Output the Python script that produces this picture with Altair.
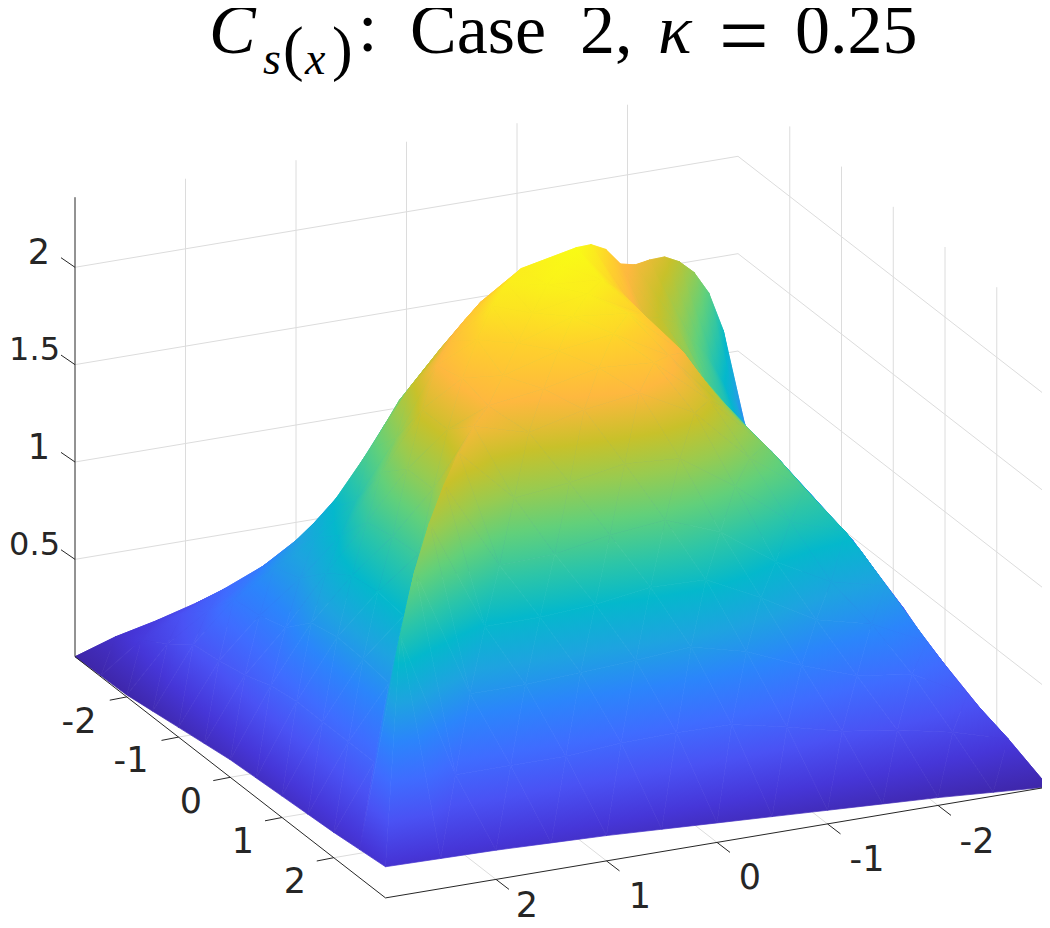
import altair as alt

# ---- surface heights: z at p=(a+b)/2, q=(a-b)/2, steps of 0.25
RIGHT = [
 [2.34,2.30,2.15,1.98,1.73,1.56,1.36,1.17,.92,.66,.42,.22,0.0],
 [2.32,2.30,2.23,2.04,1.84,1.57,1.27,.99,.80,.57,.30,.02],
 [2.25,2.26,2.20,2.08,1.85,1.50,1.14,.87,.61,.36,.04],
 [2.17,2.16,2.10,2.00,1.69,1.34,1.03,.71,.40,.055],
 [2.08,2.04,1.96,1.71,1.45,1.17,.83,.47,.07],
 [2.00,1.89,1.66,1.42,1.18,.90,.53,.085],
 [1.97,1.63,1.37,1.14,.88,.535,.10],
 [1.91,1.36,1.12,.865,.53,.115],
 [1.82,1.12,.85,.51,.13],
 [1.70,.85,.51,.14],
 [1.53,.51,.15],
 [1.27,.155],
 [.16],
]
LEFT = [
 [2.30,2.10,1.83,1.54,1.16,.85,.65,.49,.36,.24,.13,0.0],
 [2.30,2.09,1.81,1.49,1.13,.87,.68,.53,.38,.22,.005],
 [2.26,2.05,1.79,1.44,1.11,.88,.68,.50,.30,.01],
 [2.16,2.00,1.60,1.25,1.03,.85,.66,.40,.03],
 [2.04,1.85,1.50,1.15,.90,.68,.42,.05],
 [1.85,1.62,1.32,1.03,.72,.45,.07],
 [1.62,1.35,1.12,.85,.50,.09],
 [1.36,1.14,.88,.52,.10],
 [1.12,.87,.52,.11],
 [.85,.52,.12],
 [.52,.13],
 [.145],
]
BACK_LEFT = [
 [2.18,2.05,1.81,1.52,1.13,.84,.60,.43,.26,.13,.005],
 [2.13,2.04,1.79,1.44,1.11,.87,.60,.33,.17,.01],
 [2.05,2.00,1.55,1.25,1.03,.85,.55,.25,.03],
 [1.95,1.85,1.50,1.10,.90,.68,.36,.05],
 [1.85,1.62,1.32,1.03,.72,.44,.07],
 [1.62,1.35,1.12,.78,.445,.09],
 [1.36,1.12,.77,.44,.10],
 [1.12,.76,.43,.11],
 [.78,.43,.12],
 [.45,.13],
 [.145],
]
BACK_RIGHT = [
 [2.18,2.00,1.80,1.58,1.41,1.20,1.00,.74,.49,.26,.005],
 [2.02,1.86,1.63,1.44,1.25,1.05,.82,.56,.31,.02],
 [1.88,1.70,1.46,1.28,1.08,.89,.64,.38,.03],
 [1.80,1.53,1.31,1.13,.93,.72,.47,.05],
 [1.70,1.33,1.16,.97,.77,.54,.07],
 [1.55,1.19,1.02,.82,.62,.09],
 [1.40,1.00,.80,.55,.10],
 [1.20,.80,.50,.11],
 [1.00,.50,.12],
 [.70,.13],
 [.145],
]
BACK_RIDGE = [2.36,2.30,2.20,2.05,1.97,1.92,1.86,1.76,1.63,1.45,1.18,.16]
Z_MAX = 2.36

PARULA_F = [0,.08,.16,.24,.32,.40,.48,.55,.63,.70,.77,.85,.92,1]
PARULA_C = ["#3e26a8","#4636d8","#4a52f4","#3f6cff","#2b85fb","#1ea3e0","#04b8cc",
            "#2cc5a8","#62d07a","#98cb50","#c8c12a","#feb83f","#fed12c","#f9fb15"]

Z_TICKS = [2, 1.5, 1, .5]
AB_TICKS = [-2, -1, 0, 1, 2]
Z_LABELS = ["2", "1"]
Z_LABEL_X = [50, 50]
Z_LABEL_Y = [253, 448]
Z_LABELS_SMALL = ["1.5", "0.5"]
Z_LABEL_SMALL_X = [60, 60]
Z_LABEL_SMALL_Y = [350, 545]
A_LABELS = ["-2", "-1", "0", "1", "2"]
A_LABEL_X = [79, 131, 191, 243, 295]
A_LABEL_Y = [722, 761, 802, 842, 882]
B_LABELS = ["2", "1", "0", "-1", "-2"]
B_LABEL_X = [527, 640, 750, 867, 977]
B_LABEL_Y = [906, 897, 878, 860, 842]

W, H = 1034, 912


def proj(a, b, z):
    return (75 + 51.75 * (a + 3) + 110.5 * (3 - b),
            656.7 + 40.2 * (a + 3) - 18.5 * (3 - b) - 194.7 * z)


def zval(i, j):
    if j == 0:
        return BACK_RIDGE[-i - 1] if i < 0 else RIGHT[i][0]
    if i >= 0:
        return RIGHT[i][j] if j > 0 else LEFT[i][-j - 1]
    return BACK_RIGHT[-i - 1][j - 1] if j > 0 else BACK_LEFT[-i - 1][-j - 1]


def color_at(f):
    f = max(0, min(1, f))
    for k in range(len(PARULA_F) - 1):
        if f <= PARULA_F[k + 1]:
            t = (f - PARULA_F[k]) / (PARULA_F[k + 1] - PARULA_F[k])
            c0, c1 = PARULA_C[k], PARULA_C[k + 1]
            rgb = [round(int(c0[n:n + 2], 16) * (1 - t) + int(c1[n:n + 2], 16) * t) for n in (1, 3, 5)]
            return "#%02x%02x%02x" % tuple(rgb)
    return PARULA_C[-1]


def fill_for(pts, zs):
    """linear gradient, in bounding box units, that follows z across the triangle"""
    xs = [p[0] for p in pts]
    ys = [p[1] for p in pts]
    x0, w = min(xs), max(xs) - min(xs)
    y0, h = min(ys), max(ys) - min(ys)
    zlo, zhi = min(zs), max(zs)
    if zhi - zlo < 1e-3 or w < 1e-6 or h < 1e-6:
        return color_at(zlo / Z_MAX)
    uv = [((x - x0) / w, (y - y0) / h) for x, y in pts]
    du1, dv1 = uv[1][0] - uv[0][0], uv[1][1] - uv[0][1]
    du2, dv2 = uv[2][0] - uv[0][0], uv[2][1] - uv[0][1]
    dz1, dz2 = zs[1] - zs[0], zs[2] - zs[0]
    det = du1 * dv2 - du2 * dv1
    if abs(det) < 1e-9:
        return color_at(zlo / Z_MAX)
    gu = (dz1 * dv2 - dz2 * dv1) / det
    gv = (du1 * dz2 - du2 * dz1) / det
    g2 = gu * gu + gv * gv
    u1, v1 = uv[zs.index(zlo)]
    u2 = u1 + gu * (zhi - zlo) / g2
    v2 = v1 + gv * (zhi - zlo) / g2
    flo, fhi = zlo / Z_MAX, zhi / Z_MAX
    stops = [{"offset": 0, "color": color_at(flo)}]
    for f, c in zip(PARULA_F, PARULA_C):
        if flo < f < fhi:
            stops.append({"offset": round((f - flo) / (fhi - flo), 4), "color": c})
    stops.append({"offset": 1, "color": color_at(fhi)})
    return {"gradient": "linear", "x1": round(u1, 4), "y1": round(v1, 4),
            "x2": round(u2, 4), "y2": round(v2, 4), "stops": stops}


def vertex(i, j):
    p, q = i * .25, j * .25
    a, b = p + q, p - q
    z = zval(i, j)
    return proj(a, b, z), z, a * 110.5 + b * 51.75


N = 12
tris = []
for i in range(-N, N):
    for j in range(-N, N):
        cell = [(i, j), (i + 1, j), (i + 1, j + 1), (i, j + 1)]
        order = sorted(range(4), key=lambda k: abs(cell[k][0]) + abs(cell[k][1]))
        near = order[0]
        o1, o2, far = (near + 1) % 4, (near + 3) % 4, (near + 2) % 4
        groups = [(cell[near], cell[o1], cell[o2])]
        if abs(cell[far][0]) + abs(cell[far][1]) <= N:
            groups.append((cell[far], cell[o1], cell[o2]))
        for g in groups:
            if any(abs(v[0]) + abs(v[1]) > N for v in g):
                continue
            vs = [vertex(*v) for v in g]
            tris.append((sum(v[2] for v in vs) / 3, [v[0] for v in vs], [v[1] for v in vs]))
tris.sort(key=lambda t: t[0])

surface_values = []
for depth, pts, zs in tris:
    ring = [[round(x, 2), round(y, 2)] for x, y in pts]
    ring.append(ring[0])
    surface_values.append({"type": "Feature", "properties": {"f": fill_for(pts, zs)},
                           "geometry": {"type": "Polygon", "coordinates": [ring]}})


def line(*pts):
    return {"type": "Feature", "properties": {},
            "geometry": {"type": "LineString", "coordinates": [[round(x, 2), round(y, 2)] for x, y in pts]}}


grid = []
for z in Z_TICKS:
    grid.append(line(proj(-3, 3, z), proj(-3, -3, z), proj(3, -3, z)))
for t in AB_TICKS:
    grid.append(line(proj(-3, t, 0), proj(-3, t, Z_MAX)))
    grid.append(line(proj(t, -3, 0), proj(t, -3, Z_MAX)))
    grid.append(line(proj(3, t, 0), proj(-3, t, 0)))
    grid.append(line(proj(t, 3, 0), proj(t, -3, 0)))
grid.append(line(proj(-3, 3, 0), proj(-3, -3, 0), proj(3, -3, 0)))

axes = [line(proj(-3, 3, Z_MAX), proj(-3, 3, 0), proj(3, 3, 0), proj(3, -3, 0))]
for z in Z_TICKS:
    x, y = proj(-3, 3, z)
    axes.append(line((x - 14, y - 9.6), (x, y)))
for t in AB_TICKS:
    x, y = proj(t, 3, 0)
    axes.append(line((x - 17, y + 3.3), (x, y)))
    x, y = proj(3, t, 0)
    axes.append(line((x + 13, y + 10), (x, y)))

PROJ = dict(type="identity", scale=1, translate=[-8, -8])


def geo(values, **mark):
    return alt.Chart(alt.Data(values=values)).mark_geoshape(**mark).project(**PROJ)


grid_layer = geo(grid, filled=False, stroke="#dcdcdc", strokeWidth=1)
surface_layer = geo(surface_values, strokeWidth=.7).encode(
    fill=alt.Fill("properties.f:N", scale=None, legend=None),
    stroke=alt.Stroke("properties.f:N", scale=None, legend=None),
)
axes_layer = geo(axes, filled=False, stroke="#262626", strokeWidth=1)


def text_layer(labels, xs, ys, font="DejaVu Sans", size=35, color="#262626", align="center", **kw):
    rows = [{"t": t, "x": x - 8, "y": y - 8} for t, x, y in zip(labels, xs, ys)]
    return alt.Chart(alt.Data(values=rows)).mark_text(
        font=font, fontSize=size, color=color, align=align, baseline="middle", **kw
    ).encode(x=alt.X("x:Q", scale=None, axis=None), y=alt.Y("y:Q", scale=None, axis=None), text="t:N")


T_FONT = "Liberation Serif"
title_layers = [
    text_layer(["C"], [209], [32], font=T_FONT, size=70, color="#000000", align="left", fontStyle="italic"),
    text_layer(["s", "x"], [263, 305], [60, 60], font=T_FONT, size=46, color="#000000", align="left", fontStyle="italic"),
    text_layer(["(", ")"], [283, 332], [50, 50], font=T_FONT, size=62, color="#000000", align="left"),
    text_layer([":"], [358], [30], font=T_FONT, size=70, color="#000000", align="left"),
    text_layer(["Case", "2,"], [410, 580], [32, 32], font=T_FONT, size=70, color="#000000", align="left"),
    text_layer(["κ"], [658], [32], font=T_FONT, size=70, color="#000000", align="left", fontStyle="italic"),
    text_layer(["="], [719], [39], font=T_FONT, size=88, color="#000000", align="left"),
    text_layer(["0.25"], [795], [32], font=T_FONT, size=70, color="#000000", align="left"),
]

chart = alt.layer(
    grid_layer, surface_layer, axes_layer,
    text_layer(Z_LABELS, Z_LABEL_X, Z_LABEL_Y, align="right"),
    text_layer(Z_LABELS_SMALL, Z_LABEL_SMALL_X, Z_LABEL_SMALL_Y, size=32, align="right"),
    text_layer(A_LABELS, A_LABEL_X, A_LABEL_Y),
    text_layer(B_LABELS, B_LABEL_X, B_LABEL_Y),
    *title_layers,
).properties(width=W, height=H, padding=0, background="#ffffff",
             autosize=alt.AutoSizeParams(type="none")).configure_view(stroke=None)

chart.save("out.html", embed_options={"renderer": "svg", "actions": False})
